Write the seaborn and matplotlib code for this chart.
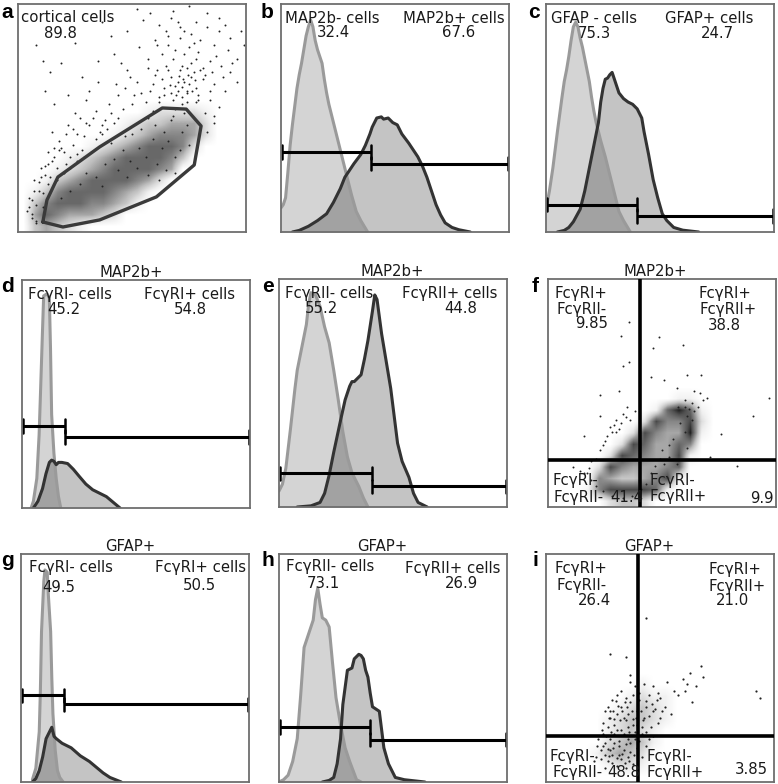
import matplotlib
matplotlib.use('Agg')
import matplotlib.pyplot as plt
import seaborn as sns

sns.set_style('white')

# Histogram curves, light = negative control, dark = stained (percent of panel).
b_light_x = [0, 1, 2, 3, 4, 5, 6, 7, 8, 9, 10, 11, 12, 13, 14, 15, 16, 17, 18, 19, 20, 21, 22, 24, 25, 27, 29, 31, 33, 35, 38]
b_light_y = [10.6, 12, 15, 26, 38, 47, 55, 63, 69, 74, 80, 86, 90, 93, 90, 84, 80, 77, 74, 67, 61, 56, 52, 44, 40, 32, 24, 16, 9, 5, 0]
b_dark_x = [5, 8, 12, 16, 20, 23, 26, 28, 30, 32, 35, 37, 39, 40, 42, 44, 45, 47, 49, 51, 53, 56, 58, 60, 62, 64, 66, 68, 70, 72, 75, 78, 83]
b_dark_y = [0, 0.7, 2.5, 5, 8, 13, 19, 24, 27, 30, 34, 38, 43, 46, 50, 50.5, 49.5, 50, 48, 47, 43, 39, 36, 33, 29, 24, 18, 12, 7.5, 4, 2, 1, 0]

c_light_x = [0, 1.5, 3, 5, 7, 8, 9, 10, 11, 12, 13, 14, 15, 16, 17, 18, 19, 20, 21, 22, 24, 26, 28, 30, 32, 34, 37]
c_light_y = [10, 18, 28, 44, 59, 66, 71, 77, 84, 90, 92, 90, 85, 81, 76, 71, 66, 59, 53, 48, 40, 33, 25, 17, 9, 5, 0]
c_dark_x = [5, 8, 10, 12, 15, 17, 19, 21, 23, 24, 25, 26, 27, 28, 29, 30, 31, 32, 34, 36, 38, 40, 42, 43, 45, 47, 49, 51, 53, 56, 60, 67]
c_dark_y = [0, 0.7, 2, 4.5, 10, 18, 28, 38, 48, 57, 63, 67, 67.5, 69, 70, 67, 64, 61, 58.5, 57, 56, 54, 50, 44, 34, 23, 15, 8, 5, 2, 0.8, 0]

d_light_x = [4, 5, 6.5, 7.5, 8, 9, 9.5, 11, 12, 12.5, 13, 14, 15, 16, 17]
d_light_y = [0, 3, 13, 32, 47, 78, 93, 94, 92, 70, 41, 24, 13, 5, 0]
d_dark_x = [5, 7, 9, 10.5, 12, 13, 14, 15, 16, 17.5, 20, 22.5, 25, 28, 31, 34, 37, 40, 43]
d_dark_y = [0, 3, 8.5, 15, 20, 21, 20.5, 19, 20, 20, 19.5, 17, 14, 10.5, 8, 6.5, 5, 2.5, 0]

e_light_x = [0, 1.5, 3, 5, 7, 8, 10, 12, 13, 14, 16, 18, 20, 22, 24, 26, 28, 30, 32, 35, 37, 39]
e_light_y = [7, 10, 17, 34, 52, 60, 70, 80, 89, 94, 93, 88, 79, 72, 60, 47, 33, 22, 15, 9, 4, 0]
e_dark_x = [8, 14, 18, 20, 22, 24, 27, 29, 30, 31, 32, 33, 34, 36, 37.5, 39, 41, 42, 43, 45, 47, 49, 51, 52, 54, 57, 59, 61, 65]
e_dark_y = [0, 0.5, 2, 6, 14, 24, 38, 47, 50, 53, 55, 55, 56, 58, 65, 73, 86, 93, 91, 76, 64, 52, 36, 28, 20, 13, 6, 2, 0]

g_light_x = [5, 6.5, 8, 8.5, 9, 10, 10.5, 11.5, 12, 13, 13.5, 14, 15, 16, 17, 18.5]
g_light_y = [1, 6, 22, 40, 66, 88, 93, 92, 82, 66, 46, 30, 14, 5, 2, 0]
g_dark_x = [5, 6.5, 8, 9.5, 11, 12.5, 13.5, 14.5, 15.5, 18, 22, 26, 30, 33, 36, 39, 44]
g_dark_y = [0, 1.5, 5, 11, 19, 22, 24, 20, 19, 17, 15, 11.5, 9, 6.5, 4, 2, 0]

h_light_x = [0, 2, 4, 6, 8, 9.5, 11, 13, 15, 16, 17, 18, 19, 20.5, 22, 23.5, 25, 27, 29, 31, 34, 36]
h_light_y = [0, 1, 3, 9, 19, 38, 59, 65, 71, 80, 85, 78, 72, 71, 68, 52, 37, 25, 15, 9, 1, 0]
h_dark_x = [19, 22, 24, 25.5, 27, 28, 30, 32, 33, 35, 36, 37, 38, 39, 40, 41, 42.5, 44, 45, 46, 48, 51, 55, 64]
h_dark_y = [0, 0.7, 2, 8, 19, 34, 49, 50, 54, 56, 55.5, 54, 49, 46, 39, 33, 32, 31, 23, 15, 8, 2, 1, 0]

# Gate heights: left y, right y, split x.
gate_b = [35, 30, 39.5]
gate_c = [12, 7, 39.7]
gate_d = [36, 31, 19]
gate_e = [14.7, 9, 41]
gate_g = [38, 34, 19]
gate_h = [24, 18.6, 40]

# Gray level read from the dense parts of the dot plots, 0 white to 9 black (top row first).
a_shade = [
    '00000000000000000000',
    '00000000000000000000',
    '00000000000000000000',
    '00000000000000000000',
    '00000000000000000000',
    '00000000000000000000',
    '00000000000000000000',
    '00000000000000000000',
    '00000000000000000000',
    '00000000000122221000',
    '00000000012334442000',
    '00000000123455542000',
    '00000012345666520000',
    '00001234566665300000',
    '00012345666654000000',
    '00134566665420000000',
    '01356666543100000000',
    '03566655431000000000',
    '04654443200000000000',
    '03432100000000000000',
]
f_shade = [
    '00000000000000000000',
    '00000000000000000000',
    '00000000000000000000',
    '00000000000000000000',
    '00000000000000000000',
    '00000000000000000000',
    '00000000000000000000',
    '00000000000000000000',
    '00000000000000000000',
    '00000000000000000000',
    '00000000000110000000',
    '00000000016861000000',
    '00000000275572000000',
    '00000002754481000000',
    '00000027644650000000',
    '00000276544710000000',
    '00002754445600000000',
    '00005433457100000000',
    '00015777761000000000',
    '00000233200000000000',
]
i_shade = [
    '00000000000000000000',
    '00000000000000000000',
    '00000000000000000000',
    '00000000000000000000',
    '00000000000000000000',
    '00000000000000000000',
    '00000000000000000000',
    '00000000000000000000',
    '00000000000000000000',
    '00000000000000000000',
    '00000000000000000000',
    '00000000100000000000',
    '00000001211000000000',
    '00000012321000000000',
    '00000123321000000000',
    '00000123210000000000',
    '00000234310000000000',
    '00001343200000000000',
    '00000122100000000000',
    '00000000000000000000',
]

# Single events outside the dense parts.
a_dots = [(52, 98), (58, 96), (68, 97), (75, 99), (78, 92), (70, 92), (62, 91), (55, 93), (83, 90), (88, 88), (93, 85), (98, 88),
          (73, 88), (66, 86), (60, 84), (80, 84), (86, 82), (92, 80), (96, 76), (75, 81), (69, 80), (63, 78), (57, 76), (78, 76),
          (84, 75), (89, 73), (93, 70), (72, 73), (66, 71), (60, 69), (76, 68), (81, 67), (86, 65), (91, 62), (70, 66), (64, 63),
          (58, 62), (52, 66), (48, 71), (44, 60), (50, 56), (56, 57), (74, 62), (79, 60), (84, 58), (88, 55), (68, 58), (62, 57),
          (82, 52), (86, 48), (83, 44), (78, 57), (72, 56), (46, 54), (40, 56), (38, 49), (34, 53), (30, 58), (36, 44), (30, 48),
          (25, 52), (22, 60), (14, 70), (19, 74), (11, 75), (35, 66), (28, 68), (42, 78), (25, 83), (48, 88), (37, 92), (8, 82),
          (26, 43), (22, 47), (18, 40), (15, 44), (20, 35), (24, 38), (28, 36), (13, 30), (16, 33), (12, 25), (9, 22), (10, 28),
          (14, 24), (7, 18), (6, 14), (8, 12), (11, 17), (6, 8), (8, 5), (5, 11), (17, 28), (21, 30),
          (71, 71), (73, 66), (69, 64), (75, 65), (77, 70), (67, 68), (65, 73), (74, 61), (72, 59), (70, 62), (78, 63), (80, 71),
          (63, 67), (61, 71), (68, 76), (76, 74), (82, 69), (73, 78), (66, 82), (71, 85), (79, 79), (74, 57), (69, 54), (64, 60),
          (59, 65), (62, 59), (77, 83), (84, 62), (81, 72), (87, 77), (90, 68), (85, 70), (94, 74), (96, 66), (99, 82), (91, 91),
          (88, 94), (83, 96), (76, 87), (71, 90), (67, 94), (79, 58), (86, 51), (73, 52), (68, 51), (59, 53), (54, 61), (57, 72),
          (61, 82), (65, 88), (51, 60), (47, 63), (49, 68), (43, 65), (41, 52), (53, 81), (45, 74), (39, 45), (37, 47), (33, 50),
          (31, 47), (27, 50), (24, 45), (29, 42), (21, 43), (19, 37), (16, 37), (13, 35), (26, 34), (23, 33), (18, 36), (15, 31),
          (12, 29), (10, 24), (9, 18), (7, 23), (5, 15), (4, 9), (6, 6), (8, 4), (11, 11), (13, 21), (17, 23), (20, 26), (23, 28),
          (26, 31), (29, 33), (32, 35), (34, 41), (37, 43), (42, 48), (44, 50), (31, 62), (35, 75), (41, 86), (16, 56), (12, 62),
          (72.5, 67), (74.5, 69), (70.5, 68.5), (72, 63.5), (76.5, 62), (69.5, 60), (66.5, 64.5), (74, 72), (77.5, 66.5), (67, 61),
          (38, 30), (42, 32), (46, 36), (49, 31), (53, 37), (56, 33), (59, 41), (63, 37), (66, 40), (69, 33), (72, 44), (75, 38),
          (44, 27), (48, 24), (52, 28), (57, 25), (61, 30), (65, 27), (34, 24), (30, 26), (27, 21), (37, 20), (23, 18), (19, 15),
          (41, 39), (47, 42), (54, 45), (60, 47), (67, 49), (74, 47), (50, 43), (57, 50), (64, 44), (71, 36), (69, 26), (62, 23)]

f_dots = [(35.6, 81), (32, 75), (48.5, 74.5), (59, 71), (46, 69.6), (35.6, 63.8), (33, 62), (61, 58), (67, 58), (45, 57),
          (51, 55.7), (22.6, 49), (31, 51), (97, 48), (90, 40), (76, 32), (83, 18), (71, 22), (15.6, 31), (23, 40), (64, 51),
          (66.7, 50), (68, 47), (56.5, 52), (66, 44), (63, 45.5), (60, 47), (57, 44), (69.6, 48), (34.6, 44), (30, 38), (27, 35),
          (25, 29), (31, 34), (34, 39.5), (15.6, 14.7), (11, 17.6), (14, 16), (56.5, 19), (61, 26),
          (29, 36), (32, 37), (28, 33), (26, 31), (24, 27), (23, 25), (21, 21), (19, 20), (18, 17), (17, 15), (30, 33), (33, 41),
          (36, 38), (38, 42), (62, 43), (60, 44), (64, 42), (61, 40), (63, 38), (58, 37), (60, 33), (55, 30), (53, 27), (50, 25),
          (49, 21), (47, 18), (45, 15), (43, 10), (41, 8), (37, 5), (33, 4), (28, 5), (24, 7), (21, 9), (19, 12), (51, 19), (53, 22)]

i_dots = [(44, 72), (35, 55), (28, 56), (37, 47), (68, 51), (63, 48), (69, 46), (62, 43), (92, 40), (94, 37), (66, 42), (60, 45),
          (58, 38), (64, 35), (61, 40), (53, 44), (56, 40), (50, 37), (47, 42), (52, 33), (55, 30), (48, 32), (45, 38), (43, 43),
          (39, 42), (37, 44), (33, 40), (35, 37), (31, 38), (29, 36), (27, 33), (26, 31), (33, 33), (37, 35), (41, 36), (44, 33),
          (47, 31), (50, 28), (43, 28), (40, 31), (36, 30), (34, 28), (31, 30), (28, 28), (30, 25), (27, 24), (25, 21), (33, 23),
          (38, 25), (42, 24), (44, 22), (47, 20), (36, 19), (32, 18), (30, 17), (28, 19), (26, 17), (24, 14), (22, 11), (34, 14),
          (37, 13), (40, 15), (33, 10), (29, 12), (27, 9), (41, 18), (38, 8), (35, 6), (31, 7), (26, 6), (42, 11), (46, 24),
          (49, 26), (39, 22), (44, 16), (36, 24), (32, 12), (30, 21), (28, 14), (24, 10), (21, 9),
          (31.5, 33.5), (33.5, 31), (35.5, 33), (37.5, 31), (39.5, 28), (41.5, 31), (29.5, 31), (32.5, 27), (35, 27), (38, 27.5),
          (27.5, 28), (30, 27.5), (36.5, 22), (34, 21), (31, 23), (28.5, 22), (26.5, 20), (39, 19), (37, 17), (35, 16.5), (32, 16),
          (29.5, 15), (27, 14.5), (25, 16), (38.5, 12), (36, 11), (33.5, 12.5), (31, 10.5), (29, 8.5), (27.5, 11.5), (34.5, 8.5),
          (36.5, 9), (42.5, 27), (45, 29), (44, 35.5), (41, 39), (38, 38), (34.5, 35), (30.5, 35.5), (28, 31), (42, 21), (45, 19),
          (40, 25), (46.5, 34), (48.5, 36), (51, 31), (49, 39), (25, 26), (24.5, 23), (23, 19), (22.5, 16), (26, 12)]

# Gate polygon of panel a.
a_gate_x = [10.9, 12.7, 17.5, 35.8, 63.3, 73.8, 80.3, 77.3, 60.7, 35.8, 19.7, 10.9]
a_gate_y = [4.4, 14, 24.1, 37.3, 54.4, 53.9, 46.5, 29.4, 15.4, 5.3, 2.2, 4.4]

# Panel frames in pixels: left, top.
frames = {'a': (18, 4), 'b': (281, 4), 'c': (546, 4),
          'd': (22, 280), 'e': (279, 279), 'f': (548, 279),
          'g': (21, 554), 'h': (279, 554), 'i': (546, 554)}
letters = {'a': (7, 12), 'b': (267, 12), 'c': (534, 12),
           'd': (7, 286), 'e': (268, 286), 'f': (535, 286),
           'g': (8, 561), 'h': (268, 561), 'i': (535, 561)}
titles = {'d': 'MAP2b+', 'e': 'MAP2b+', 'f': 'MAP2b+', 'g': 'GFAP+', 'h': 'GFAP+', 'i': 'GFAP+'}
title_x = {'d': 48, 'e': 49.7, 'f': 47, 'g': 48, 'h': 45.3, 'i': 45.3}

labels = {
    'a': [('cortical cells', 21.9, 94), ('89.8', 18.5, 87)],
    'b': [('MAP2b- cells', 22.4, 93.7), ('32.4', 23, 87.3), ('MAP2b+ cells', 75.8, 93.7), ('67.6', 78, 87.3)],
    'c': [('GFAP - cells', 21, 93.5), ('75.3', 21.3, 87), ('GFAP+ cells', 71.7, 93.5), ('24.7', 75, 87)],
    'd': [('FcγRI- cells', 21, 93.5), ('45.2', 18.3, 87), ('FcγRI+ cells', 73.6, 93.5), ('54.8', 74, 87)],
    'e': [('FcγRII- cells', 21.8, 93.5), ('55.2', 18.6, 87), ('FcγRII+ cells', 75, 93.5), ('44.8', 79.5, 87)],
    'f': [('FcγRI+', 14.5, 93.5), ('FcγRII-', 14.6, 86.5), ('9.85', 19, 80.4),
          ('FcγRI+', 77.7, 93.5), ('FcγRII+', 78.8, 86.5), ('38.8', 77.4, 79.6),
          ('FcγRI-', 12, 11.7), ('FcγRII-', 13.4, 4), ('41.4', 34.6, 4),
          ('FcγRI-', 54.7, 11.7), ('FcγRII+', 57, 4.7), ('9.9', 93.7, 3.7)],
    'g': [('FcγRI- cells', 22, 94), ('49.5', 16.7, 85.3), ('FcγRI+ cells', 78.8, 94), ('50.5', 78.2, 86.3)],
    'h': [('FcγRII- cells', 22.3, 94.4), ('73.1', 19.4, 87), ('FcγRII+ cells', 76.3, 93.7), ('26.9', 80, 87)],
    'i': [('FcγRI+', 15.5, 93.7), ('FcγRII-', 15.7, 86), ('26.4', 21.3, 79.5),
          ('FcγRI+', 82.8, 93.4), ('FcγRII+', 84, 85.7), ('21.0', 81.6, 79.8),
          ('FcγRI-', 11.4, 11.4), ('FcγRII-', 14, 4), ('48.8', 34, 4),
          ('FcγRI-', 54, 11.4), ('FcγRII+', 56.8, 4), ('3.85', 90, 5.6)],
}

W, H, SIZE = 778, 784, 228
fig = plt.figure(figsize=(W / 100, H / 100), dpi=100)
axes = {}
for key, (left, top) in frames.items():
    ax = fig.add_axes([left / W, 1 - (top + SIZE) / H, SIZE / W, SIZE / H])
    ax.set_xlim(0, 100)
    ax.set_ylim(0, 100)
    ax.set_xticks([])
    ax.set_yticks([])
    for spine in ax.spines.values():
        spine.set_color('#6e6e6e')
        spine.set_linewidth(1.3)
    axes[key] = ax


def draw_hist(ax, lx, ly, dx, dy, gate):
    ax.fill_between(lx, ly, 0, color='black', alpha=0.17, linewidth=0)
    ax.fill_between(dx, dy, 0, color='black', alpha=0.23, linewidth=0)
    sns.lineplot(x=lx, y=ly, ax=ax, sort=False, estimator=None, color='#9a9a9a', linewidth=2.2)
    sns.lineplot(x=dx, y=dy, ax=ax, sort=False, estimator=None, color='#333333', linewidth=2.2)
    # gate bars with end caps
    low, high, split = gate
    ax.plot([0.5, split], [low, low], color='black', linewidth=2.2, solid_capstyle='butt')
    ax.plot([split, 99.5], [high, high], color='black', linewidth=2.2, solid_capstyle='butt')
    for cap_x, cap_y in [(0.5, low), (split, low), (split, high), (99.5, high)]:
        ax.plot([cap_x, cap_x], [cap_y - 3, cap_y + 3], color='black', linewidth=1.8)


def draw_dots(ax, shade, dots, size):
    grid = [[int(c) for c in row] for row in shade]
    ax.imshow(grid, extent=(0, 100, 0, 100), cmap='Greys', vmin=0, vmax=9,
              interpolation='bilinear', aspect='auto', zorder=1)
    xs = [p[0] for p in dots]
    ys = [p[1] for p in dots]
    sns.scatterplot(x=xs, y=ys, ax=ax, s=size, color='#222222', linewidth=0, zorder=2)


draw_dots(axes['a'], a_shade, a_dots, 2)
sns.lineplot(x=a_gate_x, y=a_gate_y, ax=axes['a'], sort=False, estimator=None, color='#3a3a3a', linewidth=2.4, zorder=3)
draw_hist(axes['b'], b_light_x, b_light_y, b_dark_x, b_dark_y, gate_b)
draw_hist(axes['c'], c_light_x, c_light_y, c_dark_x, c_dark_y, gate_c)
draw_hist(axes['d'], d_light_x, d_light_y, d_dark_x, d_dark_y, gate_d)
draw_hist(axes['e'], e_light_x, e_light_y, e_dark_x, e_dark_y, gate_e)
draw_hist(axes['g'], g_light_x, g_light_y, g_dark_x, g_dark_y, gate_g)
draw_hist(axes['h'], h_light_x, h_light_y, h_dark_x, h_dark_y, gate_h)

draw_dots(axes['f'], f_shade, f_dots, 2)
axes['f'].axvline(40.4, color='black', linewidth=2.6, zorder=3)
axes['f'].axhline(20.6, color='black', linewidth=2.6, zorder=3)
draw_dots(axes['i'], i_shade, i_dots, 2.5)
axes['i'].axvline(40.4, color='black', linewidth=2.6, zorder=3)
axes['i'].axhline(20, color='black', linewidth=2.6, zorder=3)

for key, items in labels.items():
    for text, x, y in items:
        axes[key].text(x, y, text, ha='center', va='center', fontsize=10.7, color='#1a1a1a', zorder=4)
for key, name in titles.items():
    axes[key].text(title_x[key], 103.5, name, ha='center', va='center', fontsize=10.7, color='#1a1a1a')
for key, (x, y) in letters.items():
    fig.text(x / W, 1 - y / H, key, ha='center', va='center', fontsize=15, fontweight='bold',
             family='Liberation Sans', color='black')

plt.savefig('out.png', dpi=100)
